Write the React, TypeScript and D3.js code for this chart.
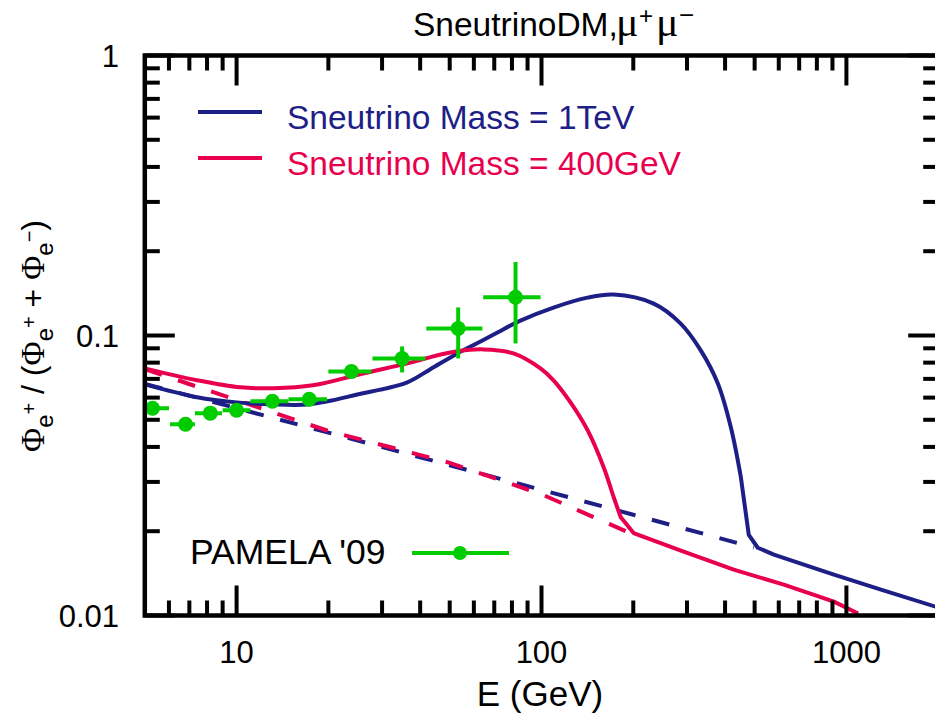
import React, { useEffect, useRef } from 'react';
import * as d3 from 'd3';

const W = 935;
const H = 720;

// PAMELA '09 positron fraction (bin centre, bin edges, value, error range)
const pamelaE = [5.3, 6.8, 8.2, 10.0, 13.1, 17.3, 23.8, 34.9, 53.3, 82.2];
const pamelaElo = [4.93, 6.05, 7.3, 9.0, 11.1, 14.8, 20.0, 27.9, 41.9, 64.4];
const pamelaEhi = [6.0, 7.3, 8.96, 11.1, 14.8, 19.8, 27.7, 41.6, 64.0, 99.3];
const pamelaF = [0.055, 0.0482, 0.0528, 0.0541, 0.0582, 0.0592, 0.0744, 0.0828, 0.106, 0.137];
const pamelaFlo = [0.0535, 0.047, 0.0516, 0.0529, 0.0566, 0.0572, 0.0712, 0.0738, 0.0828, 0.0937];
const pamelaFhi = [0.0565, 0.0494, 0.054, 0.0553, 0.0598, 0.0612, 0.0778, 0.0914, 0.126, 0.183];

// Sneutrino mass = 1 TeV (signal + background); the curve has a kink at blueKink
const blueE = [5.0, 7.42, 10.0, 12.9, 17.4, 26.0, 30.7, 36.3, 43.2, 53.0, 63.1, 71.7, 85.3, 109.5, 141.6, 172.4, 233.3, 286.1, 332.9, 378.5, 417.6, 450.4, 478.4, 512, 578, 910, 1298, 2000];
const blueF = [0.0669, 0.0602, 0.0577, 0.0568, 0.0568, 0.0622, 0.0646, 0.068, 0.0758, 0.0863, 0.0952, 0.1025, 0.113, 0.1258, 0.1365, 0.14, 0.13, 0.1103, 0.0885, 0.0675, 0.0471, 0.0313, 0.0194, 0.01746, 0.0165, 0.014, 0.01238, 0.01068];
const blueKink = 21;

// Sneutrino mass = 400 GeV (signal + background)
const redE = [5.0, 7.42, 10.3, 13.2, 17.8, 26.0, 36.3, 50.2, 64.5, 80.9, 99.2, 109.5, 124.5, 141.6, 159.8, 172.4, 181.7, 200.5, 292.6, 427, 623, 910, 1092];
const redF = [0.0763, 0.0692, 0.0653, 0.0648, 0.0664, 0.0732, 0.0795, 0.087, 0.0892, 0.0863, 0.0763, 0.0692, 0.0577, 0.0459, 0.0339, 0.0265, 0.0225, 0.0197, 0.0169, 0.01458, 0.01289, 0.01121, 0.01016];
const redKink = 16;

// backgrounds (dashed)
const blueBgE = [5, 10, 20, 50, 100, 200, 497];
const blueBgF = [0.0672, 0.055, 0.045, 0.0344, 0.0281, 0.0229, 0.0175];
const redBgE = [5, 10, 20, 50, 100, 191];
const redBgF = [0.0759, 0.0588, 0.0456, 0.0351, 0.0271, 0.0199];

// axis ticks
const xMajor = [10, 100, 1000];
const xMinor = [6, 7, 8, 9, 20, 30, 40, 50, 60, 70, 80, 90, 200, 300, 400, 500, 600, 700, 800, 900];
const xLabels = ['10', '100', '1000'];
const yMajor = [0.01, 0.1, 1];
const yMinor = [0.02, 0.03, 0.04, 0.05, 0.06, 0.07, 0.08, 0.09, 0.2, 0.3, 0.4, 0.5, 0.6, 0.7, 0.8, 0.9];
const yLabels = ['0.01', '0.1', '1'];

const BLUE = '#1e1e87';
const RED = '#e8004e';
const GREEN = '#00cc00';
const SANS = '"Liberation Sans", Arial, Helvetica, sans-serif';
const SERIF = '"Liberation Serif", "DejaVu Serif", serif';

const zip = (a: number[], b: number[]) => a.map((v, i) => [v, b[i]] as [number, number]);

const App = () => {
  const svgRef = useRef<SVGSVGElement>(null);

  useEffect(() => {
    const svg = d3.select(svgRef.current);
    svg.selectAll('*').remove();

    const left = 144.8, right = 938.2, top = 55.5, bottom = 615.5;
    const x = d3.scaleLog().domain([5, 2000]).range([left, right]);
    const y = d3.scaleLog().domain([0.01, 1]).range([bottom, top]);

    svg.append('defs').append('clipPath').attr('id', 'plot-clip')
      .append('rect')
      .attr('x', left).attr('y', top)
      .attr('width', right - left).attr('height', bottom - top);

    const straight = d3.line<[number, number]>()
      .x(d => x(d[0]))
      .y(d => y(d[1]));
    const smooth = d3.line<[number, number]>()
      .x(d => x(d[0]))
      .y(d => y(d[1]))
      .curve(d3.curveCatmullRom.alpha(0.5));

    const plot = svg.append('g').attr('clip-path', 'url(#plot-clip)');

    // dashed backgrounds
    [[blueBgE, blueBgF, BLUE], [redBgE, redBgF, RED]].forEach(([es, fs, c]) => {
      plot.append('path')
        .attr('d', straight(zip(es as number[], fs as number[])))
        .attr('fill', 'none').attr('stroke', c as string).attr('stroke-width', 4)
        .attr('stroke-dasharray', '18,17');
    });

    // solid curves: smooth up to the kink, straight after it
    const curve = (es: number[], fs: number[], k: number, c: string) => {
      const pts = zip(es, fs);
      const p1 = smooth(pts.slice(0, k + 1)) as string;
      const p2 = (straight(pts.slice(k)) as string).replace(/^M/, 'L');
      plot.append('path')
        .attr('d', p1 + p2)
        .attr('fill', 'none').attr('stroke', c).attr('stroke-width', 4)
        .attr('stroke-linejoin', 'round');
    };
    curve(blueE, blueF, blueKink, BLUE);
    curve(redE, redF, redKink, RED);

    // PAMELA points
    const pts = plot.selectAll('.pam')
      .data(pamelaE.map((e, i) => i))
      .enter()
      .append('g')
      .attr('class', 'pam');
    pts.append('line')
      .attr('x1', i => x(pamelaElo[i])).attr('x2', i => x(pamelaEhi[i]))
      .attr('y1', i => y(pamelaF[i])).attr('y2', i => y(pamelaF[i]))
      .attr('stroke', GREEN).attr('stroke-width', 4);
    pts.append('line')
      .attr('x1', i => x(pamelaE[i])).attr('x2', i => x(pamelaE[i]))
      .attr('y1', i => y(pamelaFlo[i])).attr('y2', i => y(pamelaFhi[i]))
      .attr('stroke', GREEN).attr('stroke-width', 4);
    pts.append('circle')
      .attr('cx', i => x(pamelaE[i])).attr('cy', i => y(pamelaF[i]))
      .attr('r', 7.5).attr('fill', GREEN);

    // frame and ticks
    const axes = svg.append('g').attr('stroke', '#000').attr('stroke-width', 4);
    const tick = (x1: number, y1: number, x2: number, y2: number) =>
      axes.append('line').attr('x1', x1).attr('y1', y1).attr('x2', x2).attr('y2', y2);
    xMajor.forEach(v => { tick(x(v), bottom, x(v), bottom - 30); tick(x(v), top, x(v), top + 30); });
    xMinor.forEach(v => { tick(x(v), bottom, x(v), bottom - 15); tick(x(v), top, x(v), top + 15); });
    yMajor.forEach(v => { tick(left, y(v), left + 30, y(v)); tick(right, y(v), right - 30, y(v)); });
    yMinor.forEach(v => { tick(left, y(v), left + 15, y(v)); tick(right, y(v), right - 15, y(v)); });
    axes.append('rect')
      .attr('x', left).attr('y', top)
      .attr('width', right - left).attr('height', bottom - top)
      .attr('fill', 'none').attr('stroke-width', 4.5);

    // tick labels
    const txt = svg.append('g').attr('font-family', SANS).attr('fill', '#000');
    xMajor.forEach((v, i) => {
      txt.append('text').attr('x', x(v)).attr('y', 663)
        .attr('text-anchor', 'middle').attr('font-size', 31).text(xLabels[i]);
    });
    yMajor.forEach((v, i) => {
      txt.append('text').attr('x', 119).attr('y', y(v) + 11)
        .attr('text-anchor', 'end').attr('font-size', 31).text(yLabels[i]);
    });

    // axis title
    txt.append('text').attr('x', 540).attr('y', 706)
      .attr('text-anchor', 'middle').attr('font-size', 35).text('E (GeV)');

    // y title
    const yt = txt.append('text')
      .attr('transform', 'translate(44,336) rotate(-90)')
      .attr('text-anchor', 'middle').attr('font-size', 32);
    const part = (s: string, size: number, dy: number, fam = SANS) =>
      yt.append('tspan').attr('font-size', size).attr('dy', dy).attr('font-family', fam).text(s);
    part('Φ', 33, 0, SERIF); part('e', 24, 9); part('+', 20, -17);
    part(' / (', 32, 8); part('Φ', 33, 0, SERIF); part('e', 24, 9); part('+', 20, -17);
    part(' + ', 32, 8); part('Φ', 33, 0, SERIF); part('e', 24, 9); part('−', 20, -17);
    part(')', 32, 8);

    // title
    const tt = txt.append('text').attr('x', 413).attr('y', 36).attr('font-size', 33.5);
    tt.append('tspan').text('SneutrinoDM,');
    tt.append('tspan').attr('x', 616).attr('font-family', SERIF).attr('font-size', 42).text('μ');
    tt.append('tspan').attr('x', 639).attr('dy', -12).attr('font-size', 24).text('+');
    tt.append('tspan').attr('x', 656).attr('dy', 12).attr('font-family', SERIF).attr('font-size', 42).text('μ');
    tt.append('tspan').attr('x', 679).attr('dy', -12).attr('font-size', 26).text('−');

    // legend
    const leg = [
      { label: 'Sneutrino Mass = 1TeV', color: BLUE, ly: 112, ty: 129 },
      { label: 'Sneutrino Mass = 400GeV', color: RED, ly: 158, ty: 175 },
    ];
    leg.forEach(d => {
      svg.append('line').attr('x1', 198).attr('x2', 262).attr('y1', d.ly).attr('y2', d.ly)
        .attr('stroke', d.color).attr('stroke-width', 4);
      svg.append('text').attr('x', 287).attr('y', d.ty)
        .attr('font-family', SANS).attr('font-size', 33.5).attr('fill', d.color).text(d.label);
    });
    svg.append('text').attr('x', 190).attr('y', 564)
      .attr('font-family', SANS).attr('font-size', 35.5).attr('fill', '#000').text("PAMELA '09");
    svg.append('line').attr('x1', 412).attr('x2', 509).attr('y1', 553).attr('y2', 553)
      .attr('stroke', GREEN).attr('stroke-width', 4);
    svg.append('circle').attr('cx', 460).attr('cy', 553).attr('r', 7).attr('fill', GREEN);
  }, []);

  return (
    <svg ref={svgRef} width={W} height={H}
      style={{ position: 'absolute', left: 0, top: 0, background: '#fff', display: 'block' }} />
  );
};

export default App;
